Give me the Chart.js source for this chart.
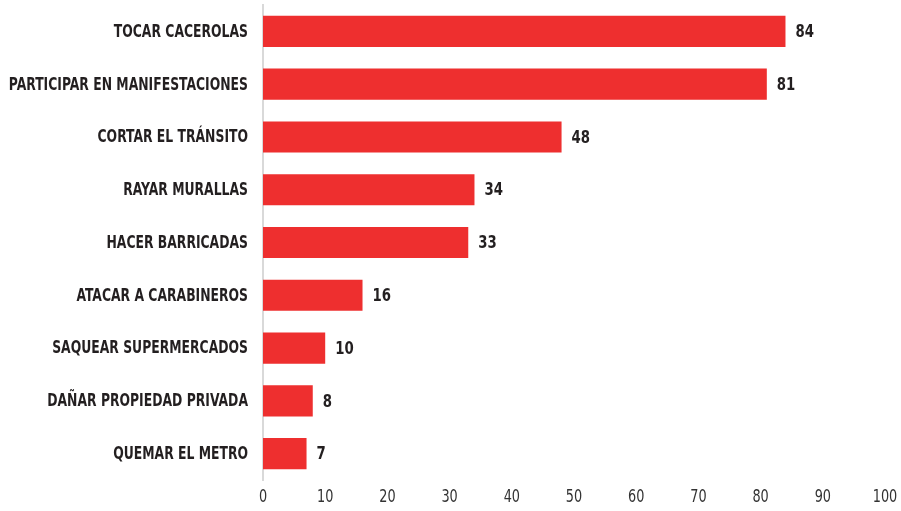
<!DOCTYPE html>
<html>
<head>
<meta charset="utf-8">
<script src="https://cdn.jsdelivr.net/npm/chart.js@4/dist/chart.umd.min.js"></script>
<style>
  html, body { margin: 0; padding: 0; background: #ffffff; }
  #wrap { width: 901px; height: 511px; }
</style>
</head>
<body>
<div id="wrap"><canvas id="c" width="901" height="511"></canvas></div>
<script>
const categories = [
  "TOCAR CACEROLAS",
  "PARTICIPAR EN MANIFESTACIONES",
  "CORTAR EL TRÁNSITO",
  "RAYAR MURALLAS",
  "HACER BARRICADAS",
  "ATACAR A CARABINEROS",
  "SAQUEAR SUPERMERCADOS",
  "DAÑAR PROPIEDAD PRIVADA",
  "QUEMAR EL METRO"
];
const values = [84, 81, 48, 34, 33, 16, 10, 8, 7];
const xTicks = [0, 10, 20, 30, 40, 50, 60, 70, 80, 90, 100];

const FONT = "'DejaVu Sans Condensed', 'DejaVu Sans', sans-serif";
const TEXT = '#231f20';

// Draws text squeezed horizontally to get a narrow, condensed look
function narrowText(ctx, str, x, y, squeeze, align) {
  const w = ctx.measureText(str).width * squeeze;
  let left = x;
  if (align === 'right') left = x - w;
  else if (align === 'center') left = x - w / 2;
  ctx.save();
  ctx.translate(left, y);
  ctx.scale(squeeze, 1);
  ctx.textAlign = 'left';
  ctx.fillText(str, 0, 0);
  ctx.restore();
}

// Category names, bar values and x tick numbers, placed from the chart's scales
const textLayer = {
  id: 'textLayer',
  afterDatasetsDraw(chart) {
    const ctx = chart.ctx;
    const meta = chart.getDatasetMeta(0);
    const xs = chart.scales.x;
    const area = chart.chartArea;
    ctx.save();
    ctx.textBaseline = 'middle';
    ctx.fillStyle = TEXT;

    ctx.font = "bold 17px " + FONT;
    meta.data.forEach((bar, i) => {
      narrowText(ctx, categories[i], area.left - 15, bar.y + 1, 0.81, 'right');
    });

    ctx.font = "bold 18px " + FONT;
    meta.data.forEach((bar, i) => {
      narrowText(ctx, String(values[i]), bar.x + 10, bar.y + 1, 0.82, 'left');
    });

    ctx.font = "17px " + FONT;
    ctx.fillStyle = '#333333';
    xTicks.forEach(v => {
      narrowText(ctx, String(v), xs.getPixelForValue(v), area.bottom + 18, 0.84, 'center');
    });
    ctx.restore();
  }
};

new Chart(document.getElementById('c'), {
  type: 'bar',
  data: {
    labels: categories,
    datasets: [{
      data: values,
      backgroundColor: '#ee2f2f',
      borderWidth: 0,
      categoryPercentage: 0.59,
      barPercentage: 1.0
    }]
  },
  options: {
    indexAxis: 'y',
    responsive: false,
    animation: false,
    devicePixelRatio: 1,
    layout: { padding: { top: 5, right: 16, bottom: 0, left: 0 } },
    plugins: {
      legend: { display: false },
      tooltip: { enabled: false }
    },
    scales: {
      x: {
        min: 0,
        max: 100,
        afterBuildTicks(axis) { axis.ticks = xTicks.map(v => ({ value: v })); },
        afterFit(axis) { axis.height = 31; },
        grid: { display: false, drawTicks: false },
        border: { display: false },
        ticks: { display: false }
      },
      y: {
        afterFit(axis) { axis.width = 263; },
        grid: { display: false, drawTicks: false },
        border: { display: true, color: '#d9d9d9', width: 2 },
        ticks: { display: false }
      }
    }
  },
  plugins: [textLayer]
});
</script>
</body>
</html>
